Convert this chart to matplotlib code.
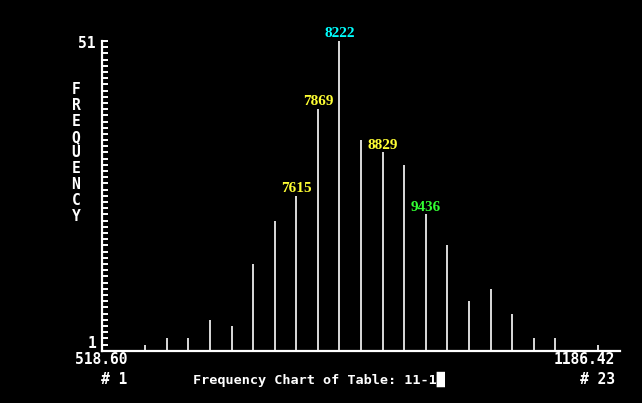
import matplotlib
matplotlib.use("Agg")
import matplotlib.pyplot as plt

# bin number (1..23) and frequency (axis runs 1..51)
bins = list(range(1, 24))
freq = [1, 2, 3, 3, 6, 5, 15, 22, 26, 40, 51, 35, 33, 31, 23, 18, 9, 11, 7, 3, 3, 1, 2]

# values printed over some of the bars
label_bins = [9, 10, 11, 13, 15]
label_text = ["7615", "7869", "8222", "8829", "9436"]
label_colors = ["#ffff33", "#ffff33", "#00ffff", "#ffff33", "#33ff33"]

x_lo, x_hi = "518.60", "1186.42"
y_lo, y_hi = 1, 51
title = "Frequency Chart of Table: 11-1\u2588"

W, H = 642, 403
fig = plt.figure(figsize=(W / 100, H / 100), dpi=100, facecolor="black")

def px(x, y):
    # pixel coords (top-left origin) -> figure fraction
    return x / W, 1 - y / H

ax = fig.add_axes([102 / W, (H - 350.7) / H, 518 / W, 309.7 / H], facecolor="black")
ax.set_xlim(0, 24)
ax.set_ylim(y_lo, y_hi)

ax.vlines(bins, y_lo, freq, color="white", linewidth=1.2)

for b, t, c in zip(label_bins, label_text, label_colors):
    ax.annotate(t, (b, freq[b - 1]), xytext=(0, 0.5), textcoords="offset points",
                ha="center", va="bottom", color=c, fontsize=11,
                fontweight="bold", family="Liberation Serif")

for s in ["top", "right"]:
    ax.spines[s].set_visible(False)
for s in ["left", "bottom"]:
    ax.spines[s].set_color("white")
    ax.spines[s].set_linewidth(1.6)

ax.set_xticks([])
ax.set_yticks(range(y_lo, y_hi + 1))
ax.set_yticklabels([])
ax.tick_params(axis="y", direction="in", length=4.5, width=1.4, color="white")

mono = dict(color="white", family="DejaVu Sans Mono", fontweight="bold", fontsize=10.5)

fig.text(*px(96, 43), str(y_hi), ha="right", va="center", **mono)
fig.text(*px(96, 344), str(y_lo), ha="right", va="center", **mono)
fig.text(*px(76, 153), "\n".join("FREQUENCY"), ha="center", va="center",
         linespacing=1.08, **mono)

fig.text(*px(127, 359), x_lo, ha="right", va="center", **mono)
fig.text(*px(127, 379), "# 1", ha="right", va="center", **mono)
fig.text(*px(615, 359), x_hi, ha="right", va="center", **mono)
fig.text(*px(615, 379), "# 23", ha="right", va="center", **mono)
fig.text(*px(193, 379), title, ha="left", va="center",
         **{**mono, "fontsize": 9.7})

fig.savefig("out.png", dpi=100, facecolor="black")
